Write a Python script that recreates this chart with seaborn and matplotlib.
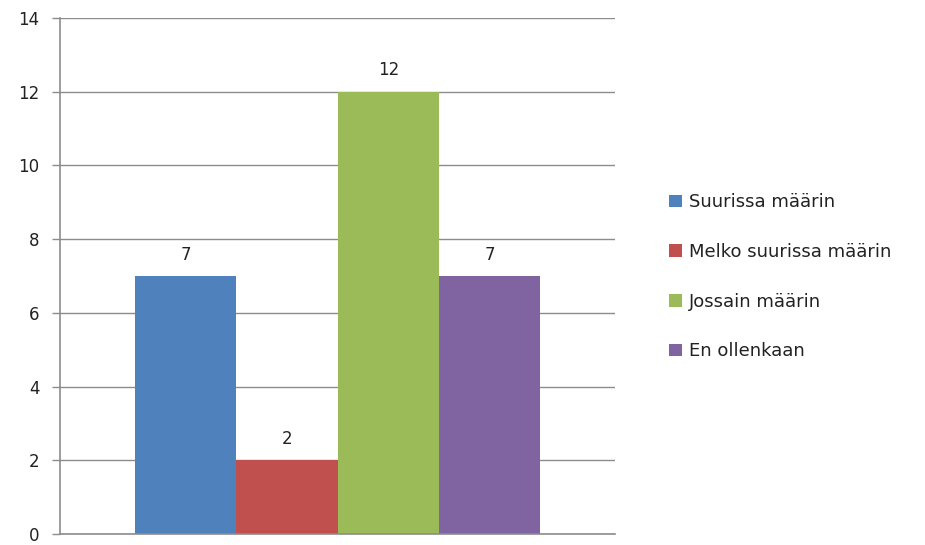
import seaborn as sns
import matplotlib.pyplot as plt
import pandas as pd

categories = ['Suurissa määrin', 'Melko suurissa määrin', 'Jossain määrin', 'En ollenkaan']
values = [7, 2, 12, 7]
colors = ['#4F81BD', '#C0504D', '#9BBB59', '#8064A2']

df = pd.DataFrame({'group': [''] * len(categories), 'answer': categories, 'count': values})

sns.set_style('white')
plt.rcParams['font.family'] = ['DejaVu Sans']

fig = plt.figure(figsize=(9.25, 5.45), dpi=100)
ax = fig.add_axes([0.065, 0.02, 0.6, 0.947])

sns.barplot(data=df, x='group', y='count', hue='answer', hue_order=categories,
            palette=colors, width=0.73, gap=0, saturation=1, linewidth=0,
            ax=ax, legend=True)

for c in ax.containers:
    ax.bar_label(c, padding=9, fontsize=12, color='#222222')

ax.set_ylim(0, 14)
ax.set_yticks(range(0, 15, 2))
ax.set_xlim(-0.5, 0.5)
ax.set_xlabel('')
ax.set_ylabel('')
ax.set_xticks([])
ax.grid(axis='y', color='#8c8c8c', linewidth=1)
ax.set_axisbelow(True)
for s in ['top', 'right']:
    ax.spines[s].set_visible(False)
for s in ['left', 'bottom']:
    ax.spines[s].set_color('#8c8c8c')
    ax.spines[s].set_linewidth(1.2)
ax.tick_params(axis='y', length=6, color='#8c8c8c', width=1, labelsize=12,
               labelcolor='#222222', pad=9, left=True)

handles, labels = ax.get_legend_handles_labels()
ax.legend_.remove()
fig.legend(handles, labels, loc='center left', bbox_to_anchor=(0.706, 0.492), frameon=False,
           fontsize=13, handlelength=0.7, handleheight=0.7, handletextpad=0.4,
           labelspacing=1.75, labelcolor='#222222')

fig.savefig('out.png', dpi=100, facecolor='white')
